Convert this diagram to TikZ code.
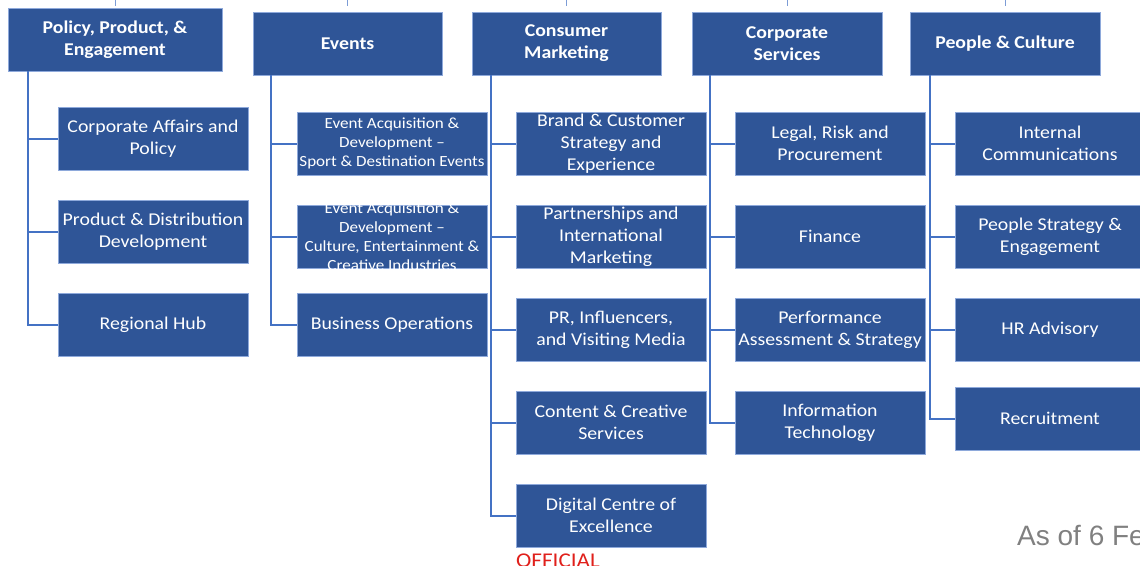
\documentclass[tikz,border=0pt]{standalone}
\usepackage{fontspec}
\setmainfont{Carlito}[FakeStretch=1.1]
\newfontfamily\arialfont{Liberation Sans}
\definecolor{boxblue}{HTML}{2F5597}
\definecolor{edgeblue}{HTML}{8EA9DB}
\definecolor{lineblue}{HTML}{4472C4}
\definecolor{officialred}{HTML}{E0201B}
\definecolor{datgray}{HTML}{808080}
\tikzset{
  topbox/.style={fill=boxblue, draw=edgeblue, line width=0.8pt, text=white,
    minimum width=190pt, minimum height=63pt, inner sep=0pt, align=center,
    font=\fontsize{18}{22}\selectfont\bfseries},
  subbox/.style={fill=boxblue, draw=edgeblue, line width=0.8pt, text=white,
    minimum width=190pt, minimum height=63pt, inner sep=0pt, align=center,
    font=\fontsize{18}{22}\selectfont},
  smalltext/.style={font=\fontsize{15.5}{19}\selectfont},
  conn/.style={draw=lineblue, line width=2pt},
  tick/.style={draw=lineblue!70, line width=1pt}
}
\begin{document}
\begin{tikzpicture}[x=1pt,y=-1pt]
\useasboundingbox (0,0) rectangle (1140,565);
\clip (0,0) rectangle (1140,565);

% top level
\node[topbox, minimum width=214pt] (ppe) at (115,39.5) {Policy, Product, \&\\Engagement};
\node[topbox, minimum width=189pt] (ev) at (347.5,43.5) {Events};
\node[topbox, minimum width=189pt] (cm) at (566.5,43.5) {Consumer\\Marketing};
\node[topbox] (cs) at (787,43.5) {Corporate\\Services};
\node[topbox] (pc) at (1005,43.5) {People \& Culture};

% tiny ticks above
\foreach \n/\xx in {ppe/115,ev/347.5,cm/566.5,cs/787,pc/1005}{
  \coordinate (\n-t1) at (\xx,0);
  \coordinate (\n-t2) at (\xx,6);
  \draw[tick] (\n-t1) -- (\n-t2);
}

% Policy, Product & Engagement children
\node[subbox] (p1) at (153,138.5) {Corporate Affairs and\\Policy};
\node[subbox] (p2) at (153,231.5) {Product \& Distribution\\Development};
\node[subbox] (p3) at (153,324.5) {Regional Hub};

% Events children
\node[subbox] (e1) at (392,143.5) {};
\node[smalltext, text=white, align=center] (e1t) at (e1.center) {Event Acquisition \&\\Development --\\Sport \& Destination Events};
\node[subbox] (e2) at (392,236.5) {};
\begin{scope}
  \clip (e2.south west) rectangle (e2.north east);
  \node[smalltext, text=white, align=center] (e2t) at (e2.center) {Event Acquisition \&\\Development --\\Culture, Entertainment \&\\Creative Industries};
\end{scope}
\node[subbox] (e3) at (392,324.5) {Business Operations};

% Consumer Marketing children
\node[subbox] (c1) at (611,143.5) {Brand \& Customer\\Strategy and\\Experience};
\node[subbox] (c2) at (611,236.5) {Partnerships and\\International\\Marketing};
\node[subbox] (c3) at (611,329.5) {PR, Influencers,\\and Visiting Media};
\node[subbox] (c4) at (611,422.5) {Content \& Creative\\Services};
\node[subbox] (c5) at (611,515.5) {Digital Centre of\\Excellence};

% Corporate Services children
\node[subbox] (s1) at (830,143.5) {Legal, Risk and\\Procurement};
\node[subbox] (s2) at (830,236.5) {Finance};
\node[subbox] (s3) at (830,329.5) {Performance\\Assessment \& Strategy};
\node[subbox] (s4) at (830,422.5) {Information\\Technology};

% People & Culture children
\node[subbox] (q1) at (1050,143.5) {Internal\\Communications};
\node[subbox] (q2) at (1050,236.5) {People Strategy \&\\Engagement};
\node[subbox] (q3) at (1050,329.5) {HR Advisory};
\node[subbox] (q4) at (1050,418.5) {Recruitment};

% connectors
\foreach \c in {p1,p2,p3}{\draw[conn] ([xshift=20pt]ppe.south west) |- (\c.west);}
\foreach \c in {e1,e2,e3}{\draw[conn] ([xshift=18.5pt]ev.south west) |- (\c.west);}
\foreach \c in {c1,c2,c3,c4,c5}{\draw[conn] ([xshift=19pt]cm.south west) |- (\c.west);}
\foreach \c in {s1,s2,s3,s4}{\draw[conn] ([xshift=18pt]cs.south west) |- (\c.west);}
\foreach \c in {q1,q2,q3,q4}{\draw[conn] ([xshift=20pt]pc.south west) |- (\c.west);}

% footer texts
\node[anchor=base west, inner sep=0pt, text=datgray, font=\arialfont\fontsize{28}{30}\selectfont] (asof) at (1017,545) {As of 6 Feb};
\node[anchor=base west, inner sep=0pt, text=officialred, font=\fontsize{21}{24}\selectfont] (official) at (516,567) {OFFICIAL};
\end{tikzpicture}
\end{document}
